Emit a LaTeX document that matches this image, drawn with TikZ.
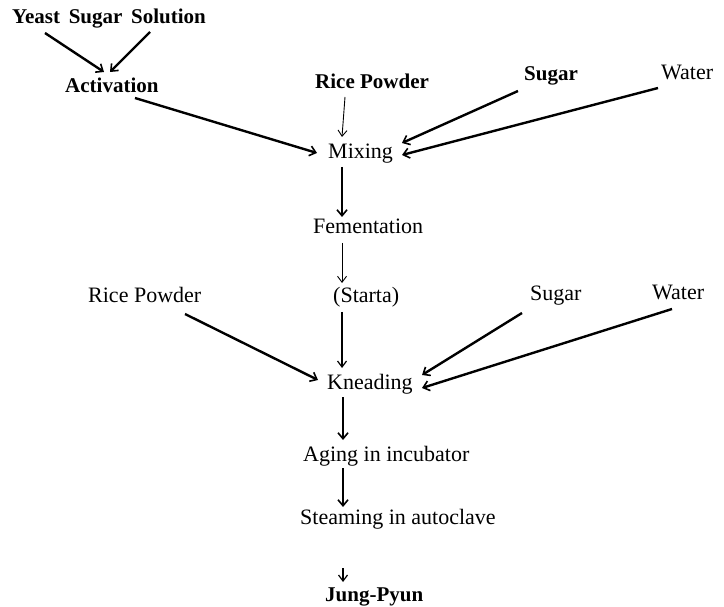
\documentclass[tikz,border=0pt]{standalone}
\usepackage{fontspec}
\setmainfont{Liberation Serif}
\usetikzlibrary{arrows.meta,calc}
\begin{document}
\begin{tikzpicture}[x=1pt,y=-1pt,
 lbl/.style={anchor=base west,inner sep=0pt,font=\fontsize{22}{24}\selectfont},
 blbl/.style={anchor=base west,inner sep=0pt,font=\fontsize{21}{24}\selectfont\bfseries},
 heavy/.style={line width=2.4pt,-{Straight Barb[length=6pt,width=10pt,line width=1.6pt]}},
 medium/.style={line width=1.5pt,-{Straight Barb[length=6pt,width=9pt,line width=1.2pt]}},
 light/.style={line width=0.9pt,-{Straight Barb[length=6pt,width=9pt,line width=0.9pt]}}
]
\useasboundingbox (0,0) rectangle (724,607);
% nodes
\node[blbl] (yss)  at (12,24)  {Yeast\, Sugar\, Solution};
\node[blbl] (act)  at (65,93)  {Activation};
\node[blbl] (rp1)  at (315,89) {Rice Powder};
\node[blbl] (sug1) at (524,81) {Sugar};
\node[lbl]  (wat1) at (661,80) {Water};
\node[lbl]  (mix)  at (328,159) {Mixing};
\node[lbl]  (fem)  at (313,234) {Fementation};
\node[lbl]  (sta)  at (333,303) {(Starta)};
\node[lbl]  (rp2)  at (88,303)  {Rice Powder};
\node[lbl]  (sug2) at (530,301) {Sugar};
\node[lbl]  (wat2) at (652,300) {Water};
\node[lbl]  (kne)  at (327,389) {Kneading};
\node[lbl]  (agi)  at (303,461) {Aging in incubator};
\node[lbl]  (ste)  at (300,524) {Steaming in autoclave};
\node[blbl] (jp)   at (325,601) {Jung-Pyun};
% connectors
\draw[heavy] ($(yss.base west)+(33,9)$) -- ($(act.base west)+(39,-21)$);
\draw[heavy] ($(yss.base west)+(138,8)$) -- ($(act.base west)+(45,-21)$);
\draw[heavy] ($(act.base west)+(70,5)$) -- ($(mix.base west)+(-11,-6)$);
\draw[light] ($(rp1.base west)+(30,8)$) -- ($(mix.base west)+(14,-22)$);
\draw[heavy] ($(sug1.base west)+(-6,10)$) -- ($(mix.base west)+(74,-16)$);
\draw[heavy] ($(wat1.base west)+(-3,8)$) -- ($(mix.base west)+(74,-4)$);
\draw[heavy] ($(mix.base west)+(14,8)$) -- ($(fem.base west)+(29,-17)$);
\draw[light] ($(fem.base west)+(29,9)$) -- ($(sta.base west)+(9,-20)$);
\draw[medium] ($(sta.base west)+(9,9)$) -- ($(kne.base west)+(15,-21)$);
\draw[heavy] ($(rp2.base west)+(97,11)$) -- ($(kne.base west)+(-9,-9)$);
\draw[heavy] ($(sug2.base west)+(-8,12)$) -- ($(kne.base west)+(95,-14)$);
\draw[heavy] ($(wat2.base west)+(20,9)$) -- ($(kne.base west)+(95,-1)$);
\draw[heavy] ($(kne.base west)+(16,8)$) -- ($(agi.base west)+(40,-21)$);
\draw[heavy] ($(agi.base west)+(40,7)$) -- ($(ste.base west)+(43,-17)$);
\draw[medium] ($(ste.base west)+(43,44)$) -- ($(jp.base west)+(18,-19)$);
\end{tikzpicture}
\end{document}
